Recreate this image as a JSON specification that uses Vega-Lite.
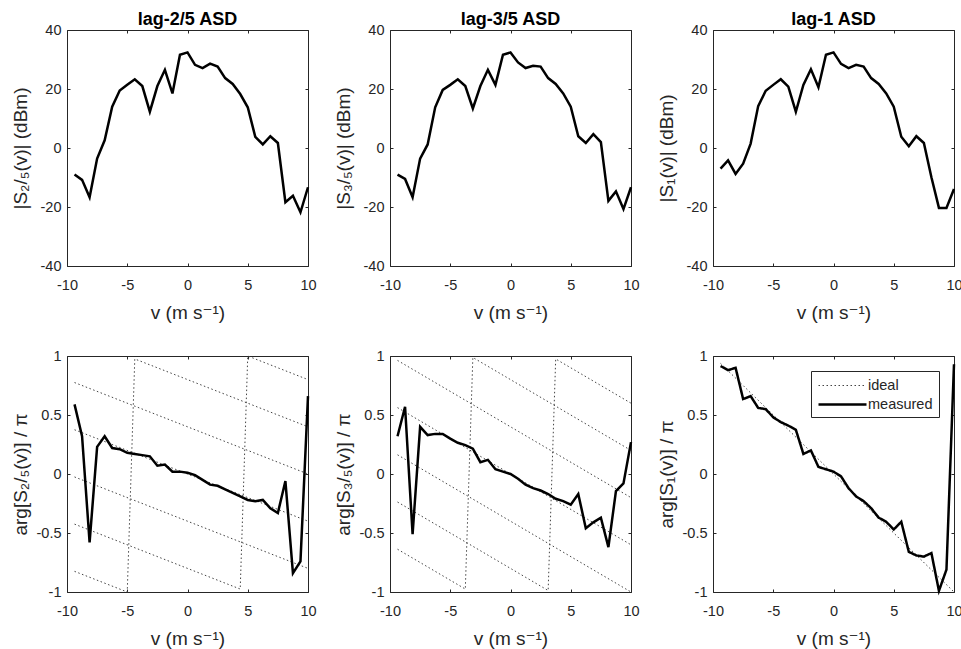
{
"$schema": "https://vega.github.io/schema/vega-lite/v6.json",
"padding": {"left": 10, "top": 10, "right": 0, "bottom": 0},
"background": "white",
"datasets": {
"mag": [
{"p":"a","v":-9.375,"y":-9},{"p":"a","v":-8.75,"y":-10.8},{"p":"a","v":-8.125,"y":-16.7},{"p":"a","v":-7.5,"y":-3.6},{"p":"a","v":-6.875,"y":2.6},{"p":"a","v":-6.25,"y":14},{"p":"a","v":-5.625,"y":19.5},{"p":"a","v":-5,"y":21.4},{"p":"a","v":-4.375,"y":23.3},{"p":"a","v":-3.75,"y":21},{"p":"a","v":-3.125,"y":12.3},{"p":"a","v":-2.5,"y":21},{"p":"a","v":-1.875,"y":26.5},{"p":"a","v":-1.25,"y":18.5},{"p":"a","v":-0.625,"y":31.6},{"p":"a","v":0,"y":32.4},{"p":"a","v":0.625,"y":28.2},{"p":"a","v":1.25,"y":27.1},{"p":"a","v":1.875,"y":28.6},{"p":"a","v":2.5,"y":27.6},{"p":"a","v":3.125,"y":23.7},{"p":"a","v":3.75,"y":21.7},{"p":"a","v":4.375,"y":18.3},{"p":"a","v":5,"y":13.8},{"p":"a","v":5.625,"y":3.8},{"p":"a","v":6.25,"y":1.2},{"p":"a","v":6.875,"y":4},{"p":"a","v":7.5,"y":1.7},{"p":"a","v":8.125,"y":-18.4},{"p":"a","v":8.75,"y":-16.2},{"p":"a","v":9.375,"y":-21.8},{"p":"a","v":10,"y":-13.3},
{"p":"b","v":-9.375,"y":-9},{"p":"b","v":-8.75,"y":-10.5},{"p":"b","v":-8.125,"y":-16.7},{"p":"b","v":-7.5,"y":-3.6},{"p":"b","v":-6.875,"y":1.2},{"p":"b","v":-6.25,"y":13.8},{"p":"b","v":-5.625,"y":19.7},{"p":"b","v":-5,"y":21.4},{"p":"b","v":-4.375,"y":23.3},{"p":"b","v":-3.75,"y":21},{"p":"b","v":-3.125,"y":13.4},{"p":"b","v":-2.5,"y":21},{"p":"b","v":-1.875,"y":26.5},{"p":"b","v":-1.25,"y":21.4},{"p":"b","v":-0.625,"y":31.6},{"p":"b","v":0,"y":32.4},{"p":"b","v":0.625,"y":29},{"p":"b","v":1.25,"y":27.1},{"p":"b","v":1.875,"y":27.9},{"p":"b","v":2.5,"y":27.6},{"p":"b","v":3.125,"y":23.7},{"p":"b","v":3.75,"y":21.7},{"p":"b","v":4.375,"y":18.5},{"p":"b","v":5,"y":14},{"p":"b","v":5.625,"y":4},{"p":"b","v":6.25,"y":1.7},{"p":"b","v":6.875,"y":4.7},{"p":"b","v":7.5,"y":2},{"p":"b","v":8.125,"y":-17.9},{"p":"b","v":8.75,"y":-14.7},{"p":"b","v":9.375,"y":-20.7},{"p":"b","v":10,"y":-13.3},
{"p":"c","v":-9.375,"y":-7},{"p":"c","v":-8.75,"y":-4.2},{"p":"c","v":-8.125,"y":-8.8},{"p":"c","v":-7.5,"y":-5.3},{"p":"c","v":-6.875,"y":1.5},{"p":"c","v":-6.25,"y":14.2},{"p":"c","v":-5.625,"y":19.4},{"p":"c","v":-5,"y":21.4},{"p":"c","v":-4.375,"y":23.3},{"p":"c","v":-3.75,"y":20.8},{"p":"c","v":-3.125,"y":12.3},{"p":"c","v":-2.5,"y":21.4},{"p":"c","v":-1.875,"y":26.7},{"p":"c","v":-1.25,"y":20.6},{"p":"c","v":-0.625,"y":31.6},{"p":"c","v":0,"y":32.4},{"p":"c","v":0.625,"y":28.5},{"p":"c","v":1.25,"y":27.1},{"p":"c","v":1.875,"y":28.2},{"p":"c","v":2.5,"y":27.6},{"p":"c","v":3.125,"y":23.7},{"p":"c","v":3.75,"y":21.7},{"p":"c","v":4.375,"y":18.5},{"p":"c","v":5,"y":14},{"p":"c","v":5.625,"y":3.8},{"p":"c","v":6.25,"y":0.6},{"p":"c","v":6.875,"y":4},{"p":"c","v":7.5,"y":1.7},{"p":"c","v":8.125,"y":-9.9},{"p":"c","v":8.75,"y":-20.3},{"p":"c","v":9.375,"y":-20.3},{"p":"c","v":10,"y":-13.9}
],
"phase": [
{"p":"a","s":"measured","v":-9.375,"y":0.59},{"p":"a","s":"measured","v":-8.75,"y":0.32},{"p":"a","s":"measured","v":-8.125,"y":-0.58},{"p":"a","s":"measured","v":-7.5,"y":0.23},{"p":"a","s":"measured","v":-6.875,"y":0.32},{"p":"a","s":"measured","v":-6.25,"y":0.22},{"p":"a","s":"measured","v":-5.625,"y":0.21},{"p":"a","s":"measured","v":-5,"y":0.18},{"p":"a","s":"measured","v":-4.375,"y":0.17},{"p":"a","s":"measured","v":-3.75,"y":0.16},{"p":"a","s":"measured","v":-3.125,"y":0.15},{"p":"a","s":"measured","v":-2.5,"y":0.07},{"p":"a","s":"measured","v":-1.875,"y":0.08},{"p":"a","s":"measured","v":-1.25,"y":0.02},{"p":"a","s":"measured","v":-0.625,"y":0.02},{"p":"a","s":"measured","v":0,"y":0.01},{"p":"a","s":"measured","v":0.625,"y":-0.01},{"p":"a","s":"measured","v":1.25,"y":-0.05},{"p":"a","s":"measured","v":1.875,"y":-0.09},{"p":"a","s":"measured","v":2.5,"y":-0.1},{"p":"a","s":"measured","v":3.125,"y":-0.13},{"p":"a","s":"measured","v":3.75,"y":-0.16},{"p":"a","s":"measured","v":4.375,"y":-0.19},{"p":"a","s":"measured","v":5,"y":-0.22},{"p":"a","s":"measured","v":5.625,"y":-0.23},{"p":"a","s":"measured","v":6.25,"y":-0.22},{"p":"a","s":"measured","v":6.875,"y":-0.29},{"p":"a","s":"measured","v":7.5,"y":-0.33},{"p":"a","s":"measured","v":8.125,"y":-0.06},{"p":"a","s":"measured","v":8.75,"y":-0.84},{"p":"a","s":"measured","v":9.375,"y":-0.74},{"p":"a","s":"measured","v":10,"y":0.66},
{"p":"b","s":"measured","v":-9.375,"y":0.32},{"p":"b","s":"measured","v":-8.75,"y":0.57},{"p":"b","s":"measured","v":-8.125,"y":-0.51},{"p":"b","s":"measured","v":-7.5,"y":0.4},{"p":"b","s":"measured","v":-6.875,"y":0.33},{"p":"b","s":"measured","v":-6.25,"y":0.34},{"p":"b","s":"measured","v":-5.625,"y":0.34},{"p":"b","s":"measured","v":-5,"y":0.3},{"p":"b","s":"measured","v":-4.375,"y":0.265},{"p":"b","s":"measured","v":-3.75,"y":0.245},{"p":"b","s":"measured","v":-3.125,"y":0.215},{"p":"b","s":"measured","v":-2.5,"y":0.1},{"p":"b","s":"measured","v":-1.875,"y":0.12},{"p":"b","s":"measured","v":-1.25,"y":0.04},{"p":"b","s":"measured","v":-0.625,"y":0.02},{"p":"b","s":"measured","v":0,"y":0},{"p":"b","s":"measured","v":0.625,"y":-0.04},{"p":"b","s":"measured","v":1.25,"y":-0.09},{"p":"b","s":"measured","v":1.875,"y":-0.12},{"p":"b","s":"measured","v":2.5,"y":-0.14},{"p":"b","s":"measured","v":3.125,"y":-0.17},{"p":"b","s":"measured","v":3.75,"y":-0.21},{"p":"b","s":"measured","v":4.375,"y":-0.23},{"p":"b","s":"measured","v":5,"y":-0.26},{"p":"b","s":"measured","v":5.625,"y":-0.17},{"p":"b","s":"measured","v":6.25,"y":-0.46},{"p":"b","s":"measured","v":6.875,"y":-0.41},{"p":"b","s":"measured","v":7.5,"y":-0.37},{"p":"b","s":"measured","v":8.125,"y":-0.62},{"p":"b","s":"measured","v":8.75,"y":-0.145},{"p":"b","s":"measured","v":9.375,"y":-0.08},{"p":"b","s":"measured","v":10,"y":0.27},
{"p":"c","s":"measured","v":-9.375,"y":0.915},{"p":"c","s":"measured","v":-8.75,"y":0.88},{"p":"c","s":"measured","v":-8.125,"y":0.9},{"p":"c","s":"measured","v":-7.5,"y":0.635},{"p":"c","s":"measured","v":-6.875,"y":0.66},{"p":"c","s":"measured","v":-6.25,"y":0.56},{"p":"c","s":"measured","v":-5.625,"y":0.55},{"p":"c","s":"measured","v":-5,"y":0.48},{"p":"c","s":"measured","v":-4.375,"y":0.44},{"p":"c","s":"measured","v":-3.75,"y":0.41},{"p":"c","s":"measured","v":-3.125,"y":0.375},{"p":"c","s":"measured","v":-2.5,"y":0.17},{"p":"c","s":"measured","v":-1.875,"y":0.2},{"p":"c","s":"measured","v":-1.25,"y":0.06},{"p":"c","s":"measured","v":-0.625,"y":0.04},{"p":"c","s":"measured","v":0,"y":0.02},{"p":"c","s":"measured","v":0.625,"y":-0.02},{"p":"c","s":"measured","v":1.25,"y":-0.12},{"p":"c","s":"measured","v":1.875,"y":-0.19},{"p":"c","s":"measured","v":2.5,"y":-0.23},{"p":"c","s":"measured","v":3.125,"y":-0.29},{"p":"c","s":"measured","v":3.75,"y":-0.37},{"p":"c","s":"measured","v":4.375,"y":-0.405},{"p":"c","s":"measured","v":5,"y":-0.47},{"p":"c","s":"measured","v":5.625,"y":-0.405},{"p":"c","s":"measured","v":6.25,"y":-0.66},{"p":"c","s":"measured","v":6.875,"y":-0.69},{"p":"c","s":"measured","v":7.5,"y":-0.7},{"p":"c","s":"measured","v":8.125,"y":-0.67},{"p":"c","s":"measured","v":8.75,"y":-0.99},{"p":"c","s":"measured","v":9.375,"y":-0.81},{"p":"c","s":"measured","v":10,"y":0.93}
],
"ideal": [
{"p":"a","s":"ideal","line":0,"v":-9.375,"y":0.375},{"p":"a","s":"ideal","line":0,"v":10,"y":-0.4},
{"p":"a","s":"ideal","line":1,"v":-9.375,"y":0.775},{"p":"a","s":"ideal","line":1,"v":10,"y":0},
{"p":"a","s":"ideal","line":2,"v":-9.375,"y":-0.825},{"p":"a","s":"ideal","line":2,"v":-5,"y":-1},{"p":"a","s":"ideal","line":2,"v":-4.375,"y":0.975},{"p":"a","s":"ideal","line":2,"v":10,"y":0.4},
{"p":"a","s":"ideal","line":3,"v":-9.375,"y":-0.025},{"p":"a","s":"ideal","line":3,"v":10,"y":-0.8},
{"p":"a","s":"ideal","line":4,"v":-9.375,"y":-0.425},{"p":"a","s":"ideal","line":4,"v":4.375,"y":-0.975},{"p":"a","s":"ideal","line":4,"v":5,"y":1},{"p":"a","s":"ideal","line":4,"v":10,"y":0.8},
{"p":"b","s":"ideal","line":0,"v":-9.375,"y":0.5625},{"p":"b","s":"ideal","line":0,"v":10,"y":-0.6},
{"p":"b","s":"ideal","line":1,"v":-9.375,"y":0.9625},{"p":"b","s":"ideal","line":1,"v":10,"y":-0.2},
{"p":"b","s":"ideal","line":2,"v":-9.375,"y":-0.6375},{"p":"b","s":"ideal","line":2,"v":-3.75,"y":-0.975},{"p":"b","s":"ideal","line":2,"v":-3.125,"y":0.9875},{"p":"b","s":"ideal","line":2,"v":10,"y":0.2},
{"p":"b","s":"ideal","line":3,"v":-9.375,"y":0.1625},{"p":"b","s":"ideal","line":3,"v":10,"y":-1},
{"p":"b","s":"ideal","line":4,"v":-9.375,"y":-0.2375},{"p":"b","s":"ideal","line":4,"v":3.125,"y":-0.9875},{"p":"b","s":"ideal","line":4,"v":3.75,"y":0.975},{"p":"b","s":"ideal","line":4,"v":10,"y":0.6},
{"p":"c","s":"ideal","line":0,"v":-9.375,"y":0.9375},{"p":"c","s":"ideal","line":0,"v":10,"y":-1}
]
},
"columns": 3,
"spacing": {"row": 90, "column": 82},
"bounds": "flush",
"resolve": {
  "scale": {"color": "independent", "strokeDash": "independent", "strokeWidth": "independent"},
  "legend": {"color": "independent", "strokeDash": "independent", "strokeWidth": "independent"}
},
"concat": [
{
 "width": 241, "height": 236,
 "title": "lag-2/5 ASD",
 "resolve": {"axis": {"x": "independent", "y": "independent"}},
 "layer": [
  {"data": {"name": "mag"}, "transform": [{"filter": "datum.p === 'a'"}],
   "mark": {"type": "line", "color": "black", "strokeWidth": 2.5},
   "encoding": {
    "x": {"field": "v", "type": "quantitative", "scale": {"domain": [-10, 10], "nice": false, "zero": false}, "axis": {"orient": "bottom", "values": [-10, -5, 0, 5, 10], "title": "v (m s⁻¹)"}},
    "y": {"field": "y", "type": "quantitative", "scale": {"domain": [-40, 40], "nice": false, "zero": false}, "axis": {"orient": "left", "values": [-40, -20, 0, 20, 40], "title": "|S₂/₅(v)| (dBm)"}}
   }},
  {"data": {"name": "mag"}, "transform": [{"filter": "datum.p === 'a'"}],
   "mark": {"type": "line", "strokeOpacity": 0},
   "encoding": {
    "x": {"field": "v", "type": "quantitative", "axis": {"orient": "top", "values": [-10, -5, 0, 5, 10], "labels": false, "title": null}},
    "y": {"field": "y", "type": "quantitative", "axis": {"orient": "right", "values": [-40, -20, 0, 20, 40], "labels": false, "title": null}}
   }}
 ]
},
{
 "width": 241, "height": 236,
 "title": "lag-3/5 ASD",
 "resolve": {"axis": {"x": "independent", "y": "independent"}},
 "layer": [
  {"data": {"name": "mag"}, "transform": [{"filter": "datum.p === 'b'"}],
   "mark": {"type": "line", "color": "black", "strokeWidth": 2.5},
   "encoding": {
    "x": {"field": "v", "type": "quantitative", "scale": {"domain": [-10, 10], "nice": false, "zero": false}, "axis": {"orient": "bottom", "values": [-10, -5, 0, 5, 10], "title": "v (m s⁻¹)"}},
    "y": {"field": "y", "type": "quantitative", "scale": {"domain": [-40, 40], "nice": false, "zero": false}, "axis": {"orient": "left", "values": [-40, -20, 0, 20, 40], "title": "|S₃/₅(v)| (dBm)"}}
   }},
  {"data": {"name": "mag"}, "transform": [{"filter": "datum.p === 'b'"}],
   "mark": {"type": "line", "strokeOpacity": 0},
   "encoding": {
    "x": {"field": "v", "type": "quantitative", "axis": {"orient": "top", "values": [-10, -5, 0, 5, 10], "labels": false, "title": null}},
    "y": {"field": "y", "type": "quantitative", "axis": {"orient": "right", "values": [-40, -20, 0, 20, 40], "labels": false, "title": null}}
   }}
 ]
},
{
 "width": 241, "height": 236,
 "title": "lag-1 ASD",
 "resolve": {"axis": {"x": "independent", "y": "independent"}},
 "layer": [
  {"data": {"name": "mag"}, "transform": [{"filter": "datum.p === 'c'"}],
   "mark": {"type": "line", "color": "black", "strokeWidth": 2.5},
   "encoding": {
    "x": {"field": "v", "type": "quantitative", "scale": {"domain": [-10, 10], "nice": false, "zero": false}, "axis": {"orient": "bottom", "values": [-10, -5, 0, 5, 10], "title": "v (m s⁻¹)"}},
    "y": {"field": "y", "type": "quantitative", "scale": {"domain": [-40, 40], "nice": false, "zero": false}, "axis": {"orient": "left", "values": [-40, -20, 0, 20, 40], "title": "|S₁(v)| (dBm)"}}
   }},
  {"data": {"name": "mag"}, "transform": [{"filter": "datum.p === 'c'"}],
   "mark": {"type": "line", "strokeOpacity": 0},
   "encoding": {
    "x": {"field": "v", "type": "quantitative", "axis": {"orient": "top", "values": [-10, -5, 0, 5, 10], "labels": false, "title": null}},
    "y": {"field": "y", "type": "quantitative", "axis": {"orient": "right", "values": [-40, -20, 0, 20, 40], "labels": false, "title": null}}
   }}
 ]
},
{
 "width": 241, "height": 236,
 "resolve": {"axis": {"x": "independent", "y": "independent"}},
 "layer": [
  {"data": {"name": "ideal"}, "transform": [{"filter": "datum.p === 'a'"}],
   "mark": {"type": "line", "color": "#444444", "strokeWidth": 1, "strokeDash": [1.5, 2.5]},
   "encoding": {
    "x": {"field": "v", "type": "quantitative", "scale": {"domain": [-10, 10], "nice": false, "zero": false}, "axis": null},
    "y": {"field": "y", "type": "quantitative", "scale": {"domain": [-1, 1], "nice": false, "zero": false}, "axis": null},
    "detail": {"field": "line", "type": "nominal"}
   }},
  {"data": {"name": "phase"}, "transform": [{"filter": "datum.p === 'a'"}],
   "mark": {"type": "line", "color": "black", "strokeWidth": 2.5},
   "encoding": {
    "x": {"field": "v", "type": "quantitative", "axis": {"orient": "bottom", "values": [-10, -5, 0, 5, 10], "title": "v (m s⁻¹)"}},
    "y": {"field": "y", "type": "quantitative", "axis": {"orient": "left", "values": [-1, -0.5, 0, 0.5, 1], "title": "arg[S₂/₅(v)] / π"}}
   }},
  {"data": {"name": "phase"}, "transform": [{"filter": "datum.p === 'a'"}],
   "mark": {"type": "line", "strokeOpacity": 0},
   "encoding": {
    "x": {"field": "v", "type": "quantitative", "axis": {"orient": "top", "values": [-10, -5, 0, 5, 10], "labels": false, "title": null}},
    "y": {"field": "y", "type": "quantitative", "axis": {"orient": "right", "values": [-1, -0.5, 0, 0.5, 1], "labels": false, "title": null}}
   }}
 ]
},
{
 "width": 241, "height": 236,
 "resolve": {"axis": {"x": "independent", "y": "independent"}},
 "layer": [
  {"data": {"name": "ideal"}, "transform": [{"filter": "datum.p === 'b'"}],
   "mark": {"type": "line", "color": "#444444", "strokeWidth": 1, "strokeDash": [1.5, 2.5]},
   "encoding": {
    "x": {"field": "v", "type": "quantitative", "scale": {"domain": [-10, 10], "nice": false, "zero": false}, "axis": null},
    "y": {"field": "y", "type": "quantitative", "scale": {"domain": [-1, 1], "nice": false, "zero": false}, "axis": null},
    "detail": {"field": "line", "type": "nominal"}
   }},
  {"data": {"name": "phase"}, "transform": [{"filter": "datum.p === 'b'"}],
   "mark": {"type": "line", "color": "black", "strokeWidth": 2.5},
   "encoding": {
    "x": {"field": "v", "type": "quantitative", "axis": {"orient": "bottom", "values": [-10, -5, 0, 5, 10], "title": "v (m s⁻¹)"}},
    "y": {"field": "y", "type": "quantitative", "axis": {"orient": "left", "values": [-1, -0.5, 0, 0.5, 1], "title": "arg[S₃/₅(v)] / π"}}
   }},
  {"data": {"name": "phase"}, "transform": [{"filter": "datum.p === 'b'"}],
   "mark": {"type": "line", "strokeOpacity": 0},
   "encoding": {
    "x": {"field": "v", "type": "quantitative", "axis": {"orient": "top", "values": [-10, -5, 0, 5, 10], "labels": false, "title": null}},
    "y": {"field": "y", "type": "quantitative", "axis": {"orient": "right", "values": [-1, -0.5, 0, 0.5, 1], "labels": false, "title": null}}
   }}
 ]
},
{
 "width": 241, "height": 236,
 "resolve": {"axis": {"x": "independent", "y": "independent"}},
 "layer": [
  {"data": {"name": "ideal"}, "transform": [{"filter": "datum.p === 'c'"}],
   "mark": {"type": "line"},
   "encoding": {
    "x": {"field": "v", "type": "quantitative", "scale": {"domain": [-10, 10], "nice": false, "zero": false}, "axis": null},
    "y": {"field": "y", "type": "quantitative", "scale": {"domain": [-1, 1], "nice": false, "zero": false}, "axis": null},
    "color": {"field": "s", "type": "nominal", "scale": {"domain": ["ideal", "measured"], "range": ["#444444", "black"]}, "legend": {"title": null}},
    "strokeDash": {"field": "s", "type": "nominal", "scale": {"domain": ["ideal", "measured"], "range": [[1.5, 2.5], [1, 0]]}, "legend": {"title": null}},
    "strokeWidth": {"field": "s", "type": "nominal", "scale": {"domain": ["ideal", "measured"], "range": [1, 2.5]}, "legend": {"title": null}}
   }},
  {"data": {"name": "phase"}, "transform": [{"filter": "datum.p === 'c'"}],
   "mark": {"type": "line"},
   "encoding": {
    "x": {"field": "v", "type": "quantitative", "axis": {"orient": "bottom", "values": [-10, -5, 0, 5, 10], "title": "v (m s⁻¹)"}},
    "y": {"field": "y", "type": "quantitative", "axis": {"orient": "left", "values": [-1, -0.5, 0, 0.5, 1], "title": "arg[S₁(v)] / π"}},
    "color": {"field": "s", "type": "nominal", "legend": {"title": null}},
    "strokeDash": {"field": "s", "type": "nominal", "legend": {"title": null}},
    "strokeWidth": {"field": "s", "type": "nominal", "legend": {"title": null}}
   }},
  {"data": {"name": "phase"}, "transform": [{"filter": "datum.p === 'c'"}],
   "mark": {"type": "line", "strokeOpacity": 0},
   "encoding": {
    "x": {"field": "v", "type": "quantitative", "axis": {"orient": "top", "values": [-10, -5, 0, 5, 10], "labels": false, "title": null}},
    "y": {"field": "y", "type": "quantitative", "axis": {"orient": "right", "values": [-1, -0.5, 0, 0.5, 1], "labels": false, "title": null}}
   }}
 ]
}
],
"config": {
 "view": {"stroke": "#262626", "strokeWidth": 1},
 "title": {"font": "Liberation Sans, DejaVu Sans", "fontSize": 18, "fontWeight": "bold", "color": "black", "anchor": "middle", "frame": "group", "baseline": "alphabetic", "offset": -7},
 "axis": {
  "domain": false, "grid": false, "ticks": true, "tickSize": -3, "tickColor": "#262626",
  "minExtent": 0,
  "labelFont": "Liberation Sans, DejaVu Sans", "labelFontSize": 14.5, "labelColor": "#262626",
  "titleFont": "Liberation Sans, DejaVu Sans", "titleFontSize": 19, "titleFontWeight": "normal", "titleColor": "#262626",
  "labelFlush": false, "labelOverlap": false, "labelBound": false,
  "labelExpr": "datum.value + ''"
 },
 "axisX": {"labelPadding": 15, "titleY": 46, "titleBaseline": "middle"},
 "axisY": {"labelPadding": 9, "titleX": -47, "titleBaseline": "middle"},
 "legend": {
  "orient": "top-right", "offset": 15, "strokeColor": "#262626", "fillColor": "white", "padding": 6,
  "labelFont": "Liberation Sans, DejaVu Sans", "labelFontSize": 14.5, "labelColor": "#262626",
  "symbolType": "M-3,0H3", "symbolSize": 256, "symbolOffset": 16, "labelOffset": 16, "rowPadding": 3, "cornerRadius": 0
 }
}
}
